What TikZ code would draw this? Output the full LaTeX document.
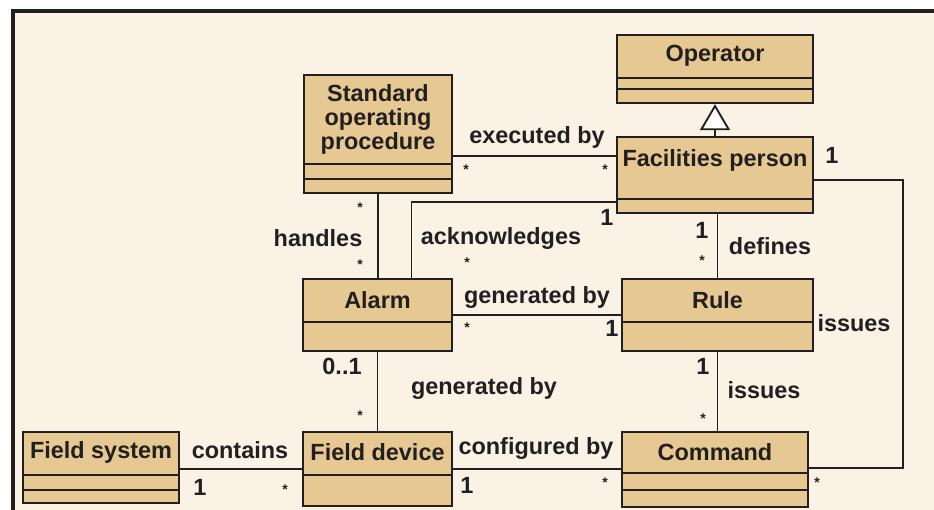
\documentclass[tikz,border=0pt]{standalone}
\usepackage{fontspec}
\setmainfont{Liberation Sans}
\usepackage{xcolor}
\definecolor{umlpaper}{RGB}{249,242,229}
\definecolor{umltan}{RGB}{229,200,146}
\definecolor{umlink}{RGB}{35,31,32}
\usetikzlibrary{arrows.meta, positioning, calc, fit}

\begin{document}
\begin{tikzpicture}[
  x=0.03cm, y=-0.03cm,
  classbox/.style={rectangle, draw=umlink, line width=2pt, fill=umltan, inner sep=0pt},
  classname/.style={font=\fontsize{20}{20.5}\selectfont\bfseries, text=umlink,
                    align=center, inner sep=0pt},
  compline/.style={draw=umlink, line width=1.6pt},
  assoc/.style={draw=umlink, line width=1.6pt},
  rolelbl/.style={font=\fontsize{20}{20.5}\selectfont\bfseries, text=umlink, inner sep=0pt},
  mult/.style={font=\fontsize{20}{20.5}\selectfont\bfseries, text=umlink, inner sep=0pt},
  many/.style={font=\fontsize{12}{12}\selectfont\bfseries, text=umlink, inner sep=0pt}
]
\useasboundingbox (0,0) rectangle (934,510);
\fill[white] (0,0) rectangle (934,510);
\fill[umlpaper] (13,11) rectangle (934,510);
\draw[umlink, line width=0.12cm] (13,510) -- (13,11) -- (934,11);

% classes
\node[classbox, fit={(617,35) (813,103)}]  (op)    {};
\node[classbox, fit={(617,137) (813,213)}] (fac)   {};
\node[classbox, fit={(304,75) (452,193)}]  (sop)   {};
\node[classbox, fit={(303,279) (452,351)}] (alarm) {};
\node[classbox, fit={(622,279) (813,351)}] (rule)  {};
\node[classbox, fit={(23,432) (179,503)}]  (fsys)  {};
\node[classbox, fit={(303,432) (452,506)}] (fdev)  {};
\node[classbox, fit={(622,432) (808,507)}] (cmd)   {};

\draw[compline] (op.west |- 0,78)     -- (op.east |- 0,78);
\draw[compline] (op.west |- 0,89)     -- (op.east |- 0,89);
\draw[compline] (fac.west |- 0,199)   -- (fac.east |- 0,199);
\draw[compline] (sop.west |- 0,164)   -- (sop.east |- 0,164);
\draw[compline] (sop.west |- 0,179)   -- (sop.east |- 0,179);
\draw[compline] (alarm.west |- 0,322) -- (alarm.east |- 0,322);
\draw[compline] (rule.west |- 0,322)  -- (rule.east |- 0,322);
\draw[compline] (fsys.west |- 0,475)  -- (fsys.east |- 0,475);
\draw[compline] (fsys.west |- 0,490)  -- (fsys.east |- 0,490);
\draw[compline] (fdev.west |- 0,475)  -- (fdev.east |- 0,475);
\draw[compline] (cmd.west |- 0,473)   -- (cmd.east |- 0,473);
\draw[compline] (cmd.west |- 0,490)   -- (cmd.east |- 0,490);

\node[classname] (op-name)    at (op.north |- 0,56)     {Operator};
\node[classname] (fac-name)   at (fac.north |- 0,160)   {Facilities person};
\node[classname] (sop-name)   at (sop.north |- 0,119)   {Standard\\operating\\procedure};
\node[classname] (alarm-name) at (alarm.north |- 0,300) {Alarm};
\node[classname] (rule-name)  at (rule.north |- 0,300)  {Rule};
\node[classname] (fsys-name)  at (fsys.north |- 0,452)  {Field system};
\node[classname] (fdev-name)  at (fdev.north |- 0,452)  {Field device};
\node[classname] (cmd-name)   at (cmd.north |- 0,452)   {Command};

% generalization
\draw[assoc, -{Triangle[open, fill=white, length=0.78cm, width=0.9cm]}] (fac.north) -- (op.south);

% associations
\coordinate (loop) at (903,468);
\draw[assoc] (sop.east |- 0,156) -- (fac.west |- 0,156);
\draw[assoc] (sop.south) -- (sop.south |- alarm.north);
\draw[assoc] ($(alarm.north)+(34,0)$) |- (fac.west |- 0,202);
\draw[assoc] (rule.north |- fac.south) -- (rule.north);
\draw[assoc] (alarm.east) -- (rule.west);
\draw[assoc] (rule.south) -- (rule.south |- cmd.north);
\draw[assoc] (fac.east |- 0,180) -| (loop) -- (cmd.east |- loop);
\draw[assoc] (alarm.south) -- (alarm.south |- fdev.north);
\draw[assoc] (fsys.east |- 0,469) -- (fdev.west |- 0,469);
\draw[assoc] (fdev.east |- 0,469) -- (cmd.west |- 0,469);

% association names
\node[rolelbl] (l-exec)  at (537,137) {executed by};
\node[rolelbl] (l-hand)  at (318,238) {handles};
\node[rolelbl] (l-ack)   at (501,238) {acknowledges};
\node[rolelbl] (l-def)   at (770,246) {defines};
\node[rolelbl] (l-gen1)  at (537,297) {generated by};
\node[rolelbl] (l-iss1)  at (854,323) {issues};
\node[rolelbl] (l-gen2)  at (484,388) {generated by};
\node[rolelbl] (l-iss2)  at (764,390) {issues};
\node[rolelbl] (l-cont)  at (240,450) {contains};
\node[rolelbl] (l-conf)  at (536,448) {configured by};

% multiplicities
\node[many] (m-exec-a) at (466,170) {*};
\node[many] (m-exec-b) at (605,170) {*};
\node[many] (m-hand-a) at (360,208) {*};
\node[many] (m-hand-b) at (360,265) {*};
\node[mult] (m-ack-a)  at (607,217) {1};
\node[many] (m-ack-b)  at (467,263) {*};
\node[mult] (m-def-a)  at (702,230) {1};
\node[many] (m-def-b)  at (702,261) {*};
\node[many] (m-gen1-a) at (467,328) {*};
\node[mult] (m-gen1-b) at (612,328) {1};
\node[mult] (m-iss1-a) at (832,155) {1};
\node[many] (m-iss1-b) at (817,483) {*};
\node[mult] (m-iss2-a) at (703,366) {1};
\node[many] (m-iss2-b) at (703,419) {*};
\node[mult] (m-gen2-a) at (342,366) {0..1};
\node[many] (m-gen2-b) at (360,416) {*};
\node[mult] (m-cont-a) at (200,487) {1};
\node[many] (m-cont-b) at (285,490) {*};
\node[mult] (m-conf-a) at (467,485) {1};
\node[many] (m-conf-b) at (605,483) {*};
\end{tikzpicture}
\end{document}
